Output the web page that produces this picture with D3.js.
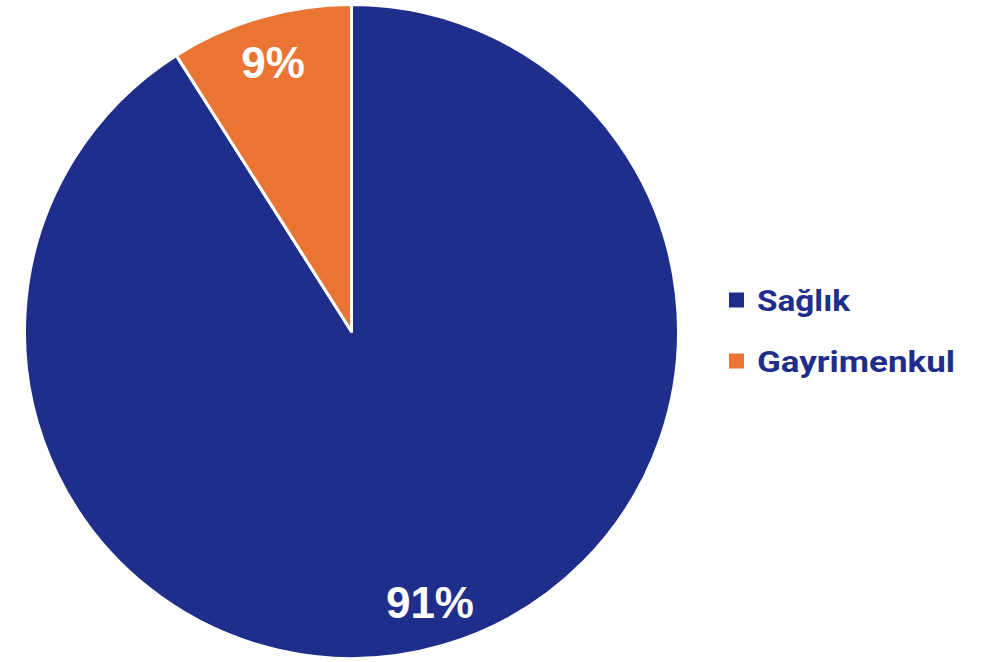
<!DOCTYPE html>
<html><head><meta charset="utf-8">
<script src="https://cdn.jsdelivr.net/npm/d3@7"></script>
<style>body{margin:0;background:#fff}</style>
</head><body>
<svg id="c" width="983" height="662"></svg>
<script>
const categories = ["Sağlık", "Gayrimenkul"];
const values = [91, 9];
const colors = ["#1f2e8a", "#e97434"];

const svg = d3.select("#c");
const cx = 351.5, cy = 331.5, r = 327;
const g = svg.append("g").attr("transform", `translate(${cx},${cy})`);
const data = categories.map((c, i) => ({name: c, value: values[i]}));
const pie = d3.pie().sort(null).value(d => d.value);
const arc = d3.arc().innerRadius(0).outerRadius(r);
const labelArc = d3.arc().innerRadius(r * 0.86).outerRadius(r * 0.86);
const color = d3.scaleOrdinal().domain(categories).range(colors);
const arcs = pie(data);
g.selectAll("path").data(arcs).join("path")
  .attr("d", arc).attr("fill", d => color(d.data.name))
  .attr("stroke", "#fff").attr("stroke-width", 3).attr("stroke-linejoin", "round");
g.selectAll("text").data(arcs).join("text")
  .attr("transform", d => `translate(${labelArc.centroid(d)})`)
  .attr("text-anchor", "middle").attr("dy", "0.37em")
  .attr("font-family", "Liberation Sans, Arial, sans-serif").attr("font-weight", "bold")
  .attr("font-size", 44).attr("fill", "#fff")
  .text(d => d.data.value + "%");

const leg = svg.append("g").attr("transform", "translate(729,0)");
const ly = d3.scalePoint().domain(categories).range([300, 361]);
const widths = {"Sağlık": 93, "Gayrimenkul": 198};
categories.forEach(c => {
  leg.append("rect").attr("x", 0).attr("y", ly(c) - 7.5).attr("width", 15).attr("height", 15).attr("fill", color(c));
  leg.append("text").attr("x", 28).attr("y", ly(c)).attr("dy", "0.36em")
    .attr("font-family", "Roboto, sans-serif").attr("font-weight", "bold").attr("font-size", 30)
    .attr("fill", "#1f2e8a").attr("textLength", widths[c]).attr("lengthAdjust", "spacingAndGlyphs").text(c);
});
</script>
</body></html>
